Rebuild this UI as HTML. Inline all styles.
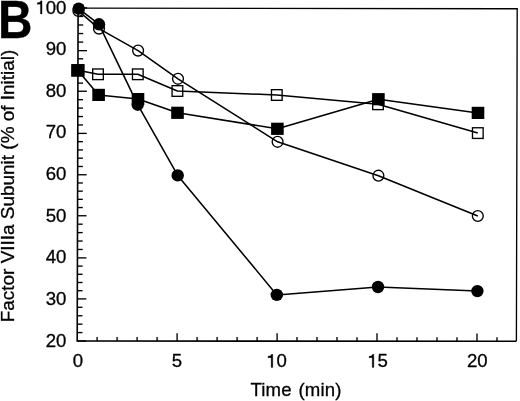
<!DOCTYPE html>
<html><head><meta charset="utf-8"><style>
html,body{margin:0;padding:0;background:#fff;width:520px;height:401px;overflow:hidden}
svg{display:block;filter:grayscale(1);font-family:"Liberation Sans",sans-serif;font-size:18.6px}
text{stroke:#000;stroke-width:0.3px}
.g1{fill:#000;stroke:#000;stroke-width:16px}
</style></head><body>
<svg width="520" height="401" viewBox="0 0 520 401">
<path d="M78.10,8.10 L517.20,8.75 L516.40,341.20" fill="none" stroke="#000" stroke-width="1.35"/>
<path d="M78.10,8.10 L77.20,341.00 L516.40,341.20" fill="none" stroke="#000" stroke-width="1.6"/>
<line x1="77.20" x2="86.20" y1="341.00" y2="341.00" stroke="#000" stroke-width="1.35"/>
<line x1="77.22" x2="82.42" y1="332.58" y2="332.58" stroke="#000" stroke-width="1.35"/>
<line x1="77.25" x2="82.45" y1="324.16" y2="324.16" stroke="#000" stroke-width="1.35"/>
<line x1="77.27" x2="82.47" y1="315.74" y2="315.74" stroke="#000" stroke-width="1.35"/>
<line x1="77.29" x2="82.49" y1="307.32" y2="307.32" stroke="#000" stroke-width="1.35"/>
<line x1="77.31" x2="86.31" y1="298.90" y2="298.90" stroke="#000" stroke-width="1.35"/>
<line x1="77.34" x2="82.54" y1="290.70" y2="290.70" stroke="#000" stroke-width="1.35"/>
<line x1="77.36" x2="82.56" y1="282.50" y2="282.50" stroke="#000" stroke-width="1.35"/>
<line x1="77.38" x2="82.58" y1="274.30" y2="274.30" stroke="#000" stroke-width="1.35"/>
<line x1="77.40" x2="82.60" y1="266.10" y2="266.10" stroke="#000" stroke-width="1.35"/>
<line x1="77.42" x2="86.42" y1="257.90" y2="257.90" stroke="#000" stroke-width="1.35"/>
<line x1="77.45" x2="82.65" y1="249.47" y2="249.47" stroke="#000" stroke-width="1.35"/>
<line x1="77.47" x2="82.67" y1="241.04" y2="241.04" stroke="#000" stroke-width="1.35"/>
<line x1="77.49" x2="82.69" y1="232.61" y2="232.61" stroke="#000" stroke-width="1.35"/>
<line x1="77.52" x2="82.72" y1="224.18" y2="224.18" stroke="#000" stroke-width="1.35"/>
<line x1="77.54" x2="86.54" y1="215.75" y2="215.75" stroke="#000" stroke-width="1.35"/>
<line x1="77.56" x2="82.76" y1="207.55" y2="207.55" stroke="#000" stroke-width="1.35"/>
<line x1="77.58" x2="82.78" y1="199.35" y2="199.35" stroke="#000" stroke-width="1.35"/>
<line x1="77.61" x2="82.81" y1="191.15" y2="191.15" stroke="#000" stroke-width="1.35"/>
<line x1="77.63" x2="82.83" y1="182.95" y2="182.95" stroke="#000" stroke-width="1.35"/>
<line x1="77.65" x2="86.65" y1="174.75" y2="174.75" stroke="#000" stroke-width="1.35"/>
<line x1="77.67" x2="82.87" y1="166.48" y2="166.48" stroke="#000" stroke-width="1.35"/>
<line x1="77.69" x2="82.89" y1="158.21" y2="158.21" stroke="#000" stroke-width="1.35"/>
<line x1="77.72" x2="82.92" y1="149.94" y2="149.94" stroke="#000" stroke-width="1.35"/>
<line x1="77.74" x2="82.94" y1="141.67" y2="141.67" stroke="#000" stroke-width="1.35"/>
<line x1="77.76" x2="86.76" y1="133.40" y2="133.40" stroke="#000" stroke-width="1.35"/>
<line x1="77.78" x2="82.98" y1="124.97" y2="124.97" stroke="#000" stroke-width="1.35"/>
<line x1="77.81" x2="83.01" y1="116.54" y2="116.54" stroke="#000" stroke-width="1.35"/>
<line x1="77.83" x2="83.03" y1="108.11" y2="108.11" stroke="#000" stroke-width="1.35"/>
<line x1="77.85" x2="83.05" y1="99.68" y2="99.68" stroke="#000" stroke-width="1.35"/>
<line x1="77.88" x2="86.88" y1="91.25" y2="91.25" stroke="#000" stroke-width="1.35"/>
<line x1="77.90" x2="83.10" y1="83.13" y2="83.13" stroke="#000" stroke-width="1.35"/>
<line x1="77.92" x2="83.12" y1="75.01" y2="75.01" stroke="#000" stroke-width="1.35"/>
<line x1="77.94" x2="83.14" y1="66.89" y2="66.89" stroke="#000" stroke-width="1.35"/>
<line x1="77.96" x2="83.16" y1="58.77" y2="58.77" stroke="#000" stroke-width="1.35"/>
<line x1="77.98" x2="86.98" y1="50.65" y2="50.65" stroke="#000" stroke-width="1.35"/>
<line x1="78.01" x2="83.21" y1="42.10" y2="42.10" stroke="#000" stroke-width="1.35"/>
<line x1="78.03" x2="83.23" y1="33.55" y2="33.55" stroke="#000" stroke-width="1.35"/>
<line x1="78.05" x2="83.25" y1="25.00" y2="25.00" stroke="#000" stroke-width="1.35"/>
<line x1="78.08" x2="83.28" y1="16.45" y2="16.45" stroke="#000" stroke-width="1.35"/>
<line x1="78.10" x2="87.10" y1="7.90" y2="7.90" stroke="#000" stroke-width="1.35"/>
<line x1="97.1" x2="97.1" y1="341.01" y2="337.01" stroke="#000" stroke-width="1.35"/>
<line x1="117.1" x2="117.1" y1="341.02" y2="337.02" stroke="#000" stroke-width="1.35"/>
<line x1="137.1" x2="137.1" y1="341.03" y2="337.03" stroke="#000" stroke-width="1.35"/>
<line x1="157.1" x2="157.1" y1="341.04" y2="337.04" stroke="#000" stroke-width="1.35"/>
<line x1="177.1" x2="177.1" y1="341.05" y2="333.25" stroke="#000" stroke-width="1.35"/>
<line x1="197.1" x2="197.1" y1="341.05" y2="337.05" stroke="#000" stroke-width="1.35"/>
<line x1="217.1" x2="217.1" y1="341.06" y2="337.06" stroke="#000" stroke-width="1.35"/>
<line x1="237.1" x2="237.1" y1="341.07" y2="337.07" stroke="#000" stroke-width="1.35"/>
<line x1="257.1" x2="257.1" y1="341.08" y2="337.08" stroke="#000" stroke-width="1.35"/>
<line x1="277.1" x2="277.1" y1="341.09" y2="333.29" stroke="#000" stroke-width="1.35"/>
<line x1="297.0" x2="297.0" y1="341.10" y2="337.10" stroke="#000" stroke-width="1.35"/>
<line x1="317.0" x2="317.0" y1="341.11" y2="337.11" stroke="#000" stroke-width="1.35"/>
<line x1="337.0" x2="337.0" y1="341.12" y2="337.12" stroke="#000" stroke-width="1.35"/>
<line x1="357.0" x2="357.0" y1="341.13" y2="337.13" stroke="#000" stroke-width="1.35"/>
<line x1="377.0" x2="377.0" y1="341.14" y2="333.34" stroke="#000" stroke-width="1.35"/>
<line x1="397.0" x2="397.0" y1="341.15" y2="337.15" stroke="#000" stroke-width="1.35"/>
<line x1="417.0" x2="417.0" y1="341.15" y2="337.15" stroke="#000" stroke-width="1.35"/>
<line x1="437.0" x2="437.0" y1="341.16" y2="337.16" stroke="#000" stroke-width="1.35"/>
<line x1="457.0" x2="457.0" y1="341.17" y2="337.17" stroke="#000" stroke-width="1.35"/>
<line x1="477.0" x2="477.0" y1="341.18" y2="333.38" stroke="#000" stroke-width="1.35"/>
<line x1="497.0" x2="497.0" y1="341.19" y2="337.19" stroke="#000" stroke-width="1.35"/>
<polyline points="78.7,8.6 99.0,24.3 137.7,104.7 177.7,175.4 276.8,294.9 378.0,287.0 477.4,291.1" fill="none" stroke="#000" stroke-width="1.55" stroke-linejoin="round"/>
<polyline points="78.4,10.9 99.0,28.6 138.1,50.6 178.0,78.8 277.6,141.8 378.4,175.7 477.8,216.0" fill="none" stroke="#000" stroke-width="1.55" stroke-linejoin="round"/>
<polyline points="78.0,70.3 98.0,74.3 137.8,74.3 177.4,91.0 276.8,95.0 378.0,104.3 477.8,133.1" fill="none" stroke="#000" stroke-width="1.55" stroke-linejoin="round"/>
<polyline points="77.9,70.4 98.6,94.9 138.0,99.1 177.5,112.8 277.4,128.8 378.4,99.2 478.0,112.9" fill="none" stroke="#000" stroke-width="1.55" stroke-linejoin="round"/>
<circle cx="78.7" cy="8.6" r="6.20" fill="#000"/>
<circle cx="99.0" cy="24.3" r="6.20" fill="#000"/>
<circle cx="137.7" cy="104.7" r="6.20" fill="#000"/>
<circle cx="177.7" cy="175.4" r="6.20" fill="#000"/>
<circle cx="276.8" cy="294.9" r="6.20" fill="#000"/>
<circle cx="378.0" cy="287.0" r="6.20" fill="#000"/>
<circle cx="477.4" cy="291.1" r="6.20" fill="#000"/>
<circle cx="78.4" cy="10.9" r="5.42" fill="none" stroke="#000" stroke-width="1.35"/>
<circle cx="99.0" cy="28.6" r="5.42" fill="none" stroke="#000" stroke-width="1.35"/>
<circle cx="138.1" cy="50.6" r="5.42" fill="none" stroke="#000" stroke-width="1.35"/>
<circle cx="178.0" cy="78.8" r="5.42" fill="none" stroke="#000" stroke-width="1.35"/>
<circle cx="277.6" cy="141.8" r="5.42" fill="none" stroke="#000" stroke-width="1.35"/>
<circle cx="378.4" cy="175.7" r="5.42" fill="none" stroke="#000" stroke-width="1.35"/>
<circle cx="477.8" cy="216.0" r="5.42" fill="none" stroke="#000" stroke-width="1.35"/>
<rect x="72.67" y="64.97" width="10.65" height="10.65" fill="none" stroke="#000" stroke-width="1.35"/>
<rect x="92.67" y="68.97" width="10.65" height="10.65" fill="none" stroke="#000" stroke-width="1.35"/>
<rect x="132.48" y="68.97" width="10.65" height="10.65" fill="none" stroke="#000" stroke-width="1.35"/>
<rect x="172.08" y="85.67" width="10.65" height="10.65" fill="none" stroke="#000" stroke-width="1.35"/>
<rect x="271.48" y="89.67" width="10.65" height="10.65" fill="none" stroke="#000" stroke-width="1.35"/>
<rect x="372.68" y="98.97" width="10.65" height="10.65" fill="none" stroke="#000" stroke-width="1.35"/>
<rect x="472.48" y="127.77" width="10.65" height="10.65" fill="none" stroke="#000" stroke-width="1.35"/>
<rect x="71.15" y="64.10" width="13.5" height="12.6" fill="#000"/>
<rect x="92.30" y="88.80" width="12.6" height="12.2" fill="#000"/>
<rect x="131.70" y="93.00" width="12.6" height="12.2" fill="#000"/>
<rect x="171.20" y="106.70" width="12.6" height="12.2" fill="#000"/>
<rect x="271.10" y="122.70" width="12.6" height="12.2" fill="#000"/>
<rect x="372.10" y="93.10" width="12.6" height="12.2" fill="#000"/>
<rect x="471.70" y="106.80" width="12.6" height="12.2" fill="#000"/>
<text x="45.71" y="347.10">2</text>
<text x="56.06" y="347.10">0</text>
<text x="45.71" y="305.10">3</text>
<text x="56.06" y="305.10">0</text>
<text x="45.71" y="263.40">4</text>
<text x="56.06" y="263.40">0</text>
<text x="45.71" y="221.90">5</text>
<text x="56.06" y="221.90">0</text>
<text x="45.71" y="180.40">6</text>
<text x="56.06" y="180.40">0</text>
<text x="45.71" y="138.40">7</text>
<text x="56.06" y="138.40">0</text>
<text x="45.71" y="97.40">8</text>
<text x="56.06" y="97.40">0</text>
<text x="45.71" y="55.40">9</text>
<text x="56.06" y="55.40">0</text>
<path class="g1" transform="translate(35.37,13.90) scale(0.01860,-0.01860)" d="M271,0 L359,0 L359,703 L292,703 C272,632 212,600 101,596 L101,523 L271,523 Z"/>
<text x="45.71" y="13.90">0</text>
<text x="56.06" y="13.90">0</text>
<text x="72.73" y="367.40">0</text>
<text x="171.80" y="367.40">5</text>
<path class="g1" transform="translate(266.11,367.40) scale(0.01860,-0.01860)" d="M271,0 L359,0 L359,703 L292,703 C272,632 212,600 101,596 L101,523 L271,523 Z"/>
<text x="276.45" y="367.40">0</text>
<path class="g1" transform="translate(367.18,367.40) scale(0.01860,-0.01860)" d="M271,0 L359,0 L359,703 L292,703 C272,632 212,600 101,596 L101,523 L271,523 Z"/>
<text x="377.52" y="367.40">5</text>
<text x="466.96" y="367.40">2</text>
<text x="477.30" y="367.40">0</text>
<text x="296.1" y="395.7" text-anchor="middle" word-spacing="1.2" letter-spacing="0.2">Time (min)</text>
<text transform="translate(14,322.3) rotate(-90)" x="0" y="0" font-size="18.95">Factor VIIIa Subunit (% of Initial)</text>
<text transform="translate(-2.1,37.7) scale(0.9,1.0)" font-weight="bold" font-size="53" style="stroke-width:0.3px">B</text>
</svg>
</body></html>
